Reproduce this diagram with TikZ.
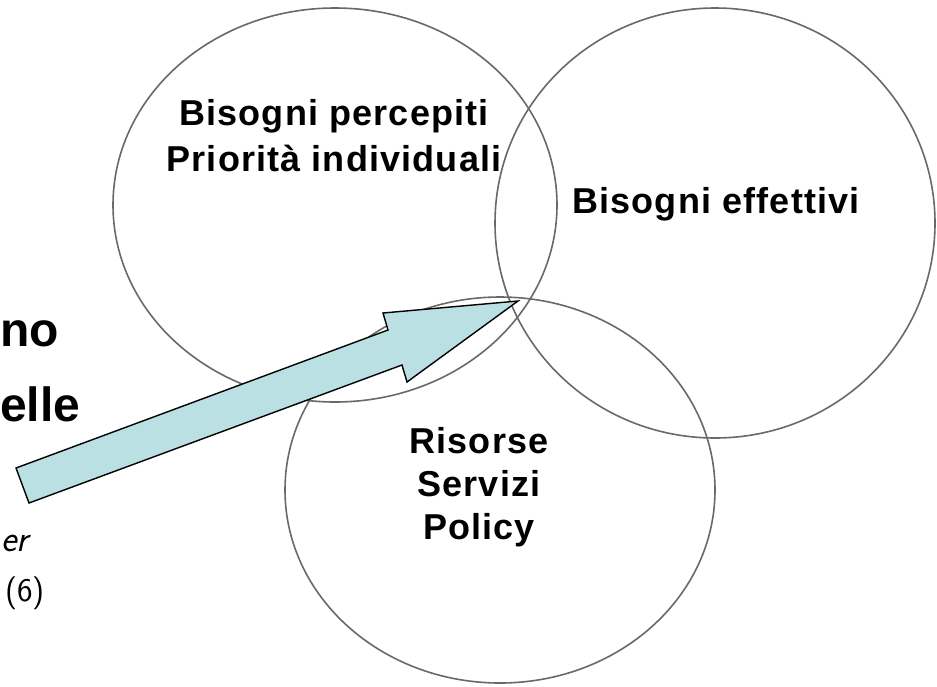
\documentclass[tikz,border=0pt]{standalone}
\usepackage{fontspec}
\setmainfont{Liberation Sans}
\newfontfamily\labelfont{Liberation Sans}[LetterSpace=3.2]
\newfontfamily\bigfont{Liberation Sans}
\definecolor{ringgray}{RGB}{105,105,105}
\definecolor{arrowfill}{RGB}{187,224,227}
\begin{document}
\begin{tikzpicture}[x=1pt,y=-1pt,
  ring/.style={draw=ringgray,line width=1.6pt},
  lab/.style={inner sep=0pt,anchor=base,font={\labelfont\bfseries\fontsize{36}{46}\selectfont}},
  big/.style={inner sep=0pt,anchor=base west,font={\bigfont\bfseries\fontsize{48}{58}\selectfont}},
  note/.style={inner sep=0pt,font={\sffamily\fontsize{33}{38}\selectfont}}]
\useasboundingbox (0,0) rectangle (937,686);
\fill[white] (0,0) rectangle (937,686);
% circles
\draw[ring] (335,205) ellipse [x radius=222pt, y radius=197pt];
\draw[ring] (715,223) ellipse [x radius=220pt, y radius=215pt];
\draw[ring] (500,490) ellipse [x radius=215pt, y radius=193pt];
% arrow
\coordinate (t1) at (16,468);
\coordinate (s1) at (388,330);
\coordinate (b1) at (383,313);
\coordinate (tip) at (518,301);
\coordinate (b2) at (407,382);
\coordinate (s2) at (402,365);
\coordinate (t2) at (29,503);
\draw[fill=arrowfill,line width=1.4pt,line join=miter] (t1) -- (s1) -- (b1) -- (tip) -- (b2) -- (s2) -- (t2) -- cycle;
% labels
\node[lab] (p1) at (334,125) {Bisogni percepiti};
\node[lab] (p2) at (334,171) {Priorità individuali};
\node[lab] (e1) at (716,213) {Bisogni effettivi};
\node[lab] (r1) at (479,453) {Risorse};
\node[lab] (r2) at (479,496) {Servizi};
\node[lab] (r3) at (479,539) {Policy};
% left partial texts
\node[big] (l1) at (0,346) {no};
\node[big] (l2) at (0,421) {elle};
\node[note,anchor=base east,font={\sffamily\itshape\fontsize{37}{42}\selectfont}] (l3) at (29,551) {er};
\node[note,anchor=base west] (l4) at (5,601) {(6)};
\end{tikzpicture}
\end{document}
